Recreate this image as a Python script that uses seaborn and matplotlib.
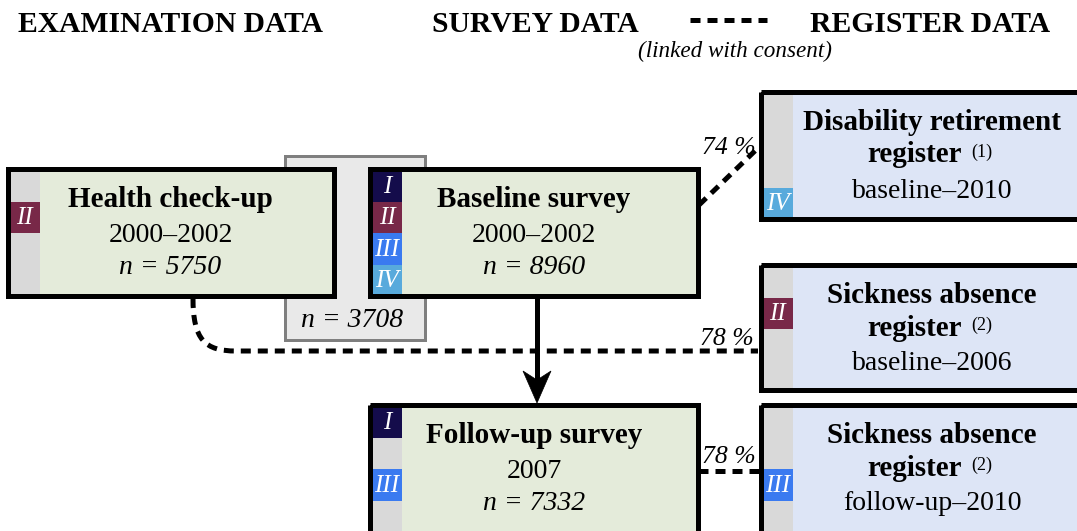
import matplotlib
matplotlib.use("Agg")
import matplotlib.pyplot as plt
from matplotlib.patches import Rectangle, Polygon, PathPatch
from matplotlib.path import Path
import seaborn as sns

# ---------------- data ----------------
headers = ["EXAMINATION DATA", "SURVEY DATA", "REGISTER DATA"]
consent_note = "(linked with consent)"

cohort_labels = ["I", "II", "III", "IV"]
cohort_colors = ["#140c4b", "#782848", "#3a7af0", "#58aadc"]

stage_titles = ["Health check-up", "Baseline survey", "Follow-up survey"]
stage_periods = ["2000–2002", "2000–2002", "2007"]
stage_n = [5750, 8960, 7332]
stage_cohorts = [["II"], ["I", "II", "III", "IV"], ["I", "III"]]
overlap_n = 3708

register_titles = ["Disability retirement", "Sickness absence", "Sickness absence"]
register_notes = [1, 2, 2]
register_periods = ["baseline–2010", "baseline–2006", "follow-up–2010"]
register_cohorts = [["IV"], ["II"], ["III"]]
link_percent = [74, 78, 78]

# ---------------- layout (pixel space) ----------------
W, H = 1077, 531
stage_boxes = [(7.5, 168.5, 333.5, 296), (370, 168.5, 698, 296), (370, 404.5, 698, 550)]
register_boxes = [(760.5, 91.5, 1095, 219), (760.5, 264.5, 1095, 390), (760.5, 404.5, 1095, 550)]
overlap_box = (284.5, 155.5, 424.5, 339.5)

green_face = "#e4ebda"
blue_face = "#dde5f6"
strip_face = "#d9d9d9"
border_px = 5
px = 0.72  # points per pixel at dpi 100

sns.set_theme(style="white")
plt.rcParams["font.family"] = ["Liberation Serif", "DejaVu Serif"]
plt.rcParams["text.color"] = "black"

fig = plt.figure(figsize=(W / 100, H / 100), dpi=100)
ax = fig.add_axes([0, 0, 1, 1])
ax.set_xlim(0, W)
ax.set_ylim(H, 0)
ax.axis("off")

# headers
header_x = [170.5, 535, 930]
for label, x in zip(headers, header_x):
    ax.text(x, 32, label, ha="center", va="baseline", fontsize=21.3, fontweight="bold", color="black")
ax.plot([690, 767], [20, 20], color="black", lw=border_px * px,
        linestyle=(0, (2, 1.4)), solid_capstyle="butt", dash_capstyle="butt")
ax.text(735, 57, consent_note, ha="center", va="baseline", fontsize=16.7, style="italic", color="black")

# overlap (grey) box behind
ox0, oy0, ox1, oy1 = overlap_box
ax.add_patch(Rectangle((ox0, oy0), ox1 - ox0, oy1 - oy0, facecolor="#e9e9e9",
                       edgecolor="#7f7f7f", lw=3 * px, zorder=1))
ax.text((ox0 + ox1) / 2 - 2, 327, f"n = {overlap_n}", ha="center", va="baseline",
        fontsize=20, style="italic", zorder=2, color="black")

slot_h = 31.5
strip_w = 32


def draw_box(box, face, cohorts):
    x0, y0, x1, y1 = box
    ax.add_patch(Rectangle((x0, y0), x1 - x0, y1 - y0, facecolor=face, edgecolor="none", zorder=2))
    ax.add_patch(Rectangle((x0, y0), strip_w, y1 - y0, facecolor=strip_face, edgecolor="none", zorder=3))
    for c in cohorts:
        i = cohort_labels.index(c)
        cy = y0 + 1.5 + i * slot_h
        ax.add_patch(Rectangle((x0, cy), strip_w, slot_h, facecolor=cohort_colors[i],
                               edgecolor="none", zorder=4))
        ax.text(x0 + strip_w / 2 + 1, cy + slot_h / 2 + 1, c, ha="center", va="center",
                color="white", fontsize=18, style="italic", zorder=5)
    ax.add_patch(Rectangle((x0, y0), x1 - x0, y1 - y0, facecolor="none", edgecolor="black",
                           lw=border_px * px, zorder=6, joinstyle="miter"))


for box, title, period, n, coh in zip(stage_boxes, stage_titles, stage_periods, stage_n, stage_cohorts):
    draw_box(box, green_face, coh)
    x0, y0, x1, y1 = box
    cx = (x0 + x1) / 2
    ax.text(cx, y0 + 38.5, title, ha="center", va="baseline", fontsize=21, fontweight="bold", zorder=7, color="black")
    ax.text(cx, y0 + 73, period, ha="center", va="baseline", fontsize=20, zorder=7, color="black")
    ax.text(cx, y0 + 106, f"n = {n}", ha="center", va="baseline", fontsize=20, style="italic", zorder=7, color="black")

for box, title, note, period, coh in zip(register_boxes, register_titles, register_notes,
                                         register_periods, register_cohorts):
    draw_box(box, blue_face, coh)
    x0, y0, x1, y1 = box
    ax.text(932, y0 + 38.5, title, ha="center", va="baseline", fontsize=21, fontweight="bold", zorder=7, color="black")
    ax.text(915, y0 + 71, "register", ha="center", va="baseline", fontsize=21, fontweight="bold", zorder=7, color="black")
    ax.text(971, y0 + 65.5, f"({note})", ha="left", va="baseline", fontsize=13, zorder=7, color="black")
    ax.text(932, y0 + 106, period, ha="center", va="baseline", fontsize=20, zorder=7, color="black")

# connectors (dashed)
dash = (0, (2, 1.4))
lw_d = border_px * px
# baseline survey -> disability register
ax.plot([699, 758], [205, 148], color="black", lw=lw_d, linestyle=dash, zorder=5,
        dash_capstyle="butt")
# health check-up -> sickness absence register (baseline)
verts = [(193, 298), (193, 340), (205, 351), (236, 351), (758, 351)]
codes = [Path.MOVETO, Path.CURVE4, Path.CURVE4, Path.CURVE4, Path.LINETO]
ax.add_patch(PathPatch(Path(verts, codes), facecolor="none", edgecolor="black",
                       lw=lw_d, linestyle=dash, zorder=5, capstyle="butt"))
# follow-up -> sickness absence register (follow-up)
ax.plot([698, 760], [471, 471], color="black", lw=lw_d, linestyle=dash, zorder=5,
        dash_capstyle="butt")

pct_pos = [(729, 154), (727, 345), (729, 463)]
for (x, y), p in zip(pct_pos, link_percent):
    ax.text(x, y, f"{p} %", ha="center", va="baseline", fontsize=18.5, style="italic", zorder=8, color="black")

# solid arrow baseline -> follow-up
ax.plot([537, 537], [298, 382], color="black", lw=5 * px, zorder=7, solid_capstyle="butt")
ax.add_patch(Polygon([(537, 403), (523, 371), (537, 380), (551, 371)], closed=True,
                     facecolor="black", edgecolor="black", lw=0.5, zorder=8))

fig.savefig("out.png", dpi=100)
